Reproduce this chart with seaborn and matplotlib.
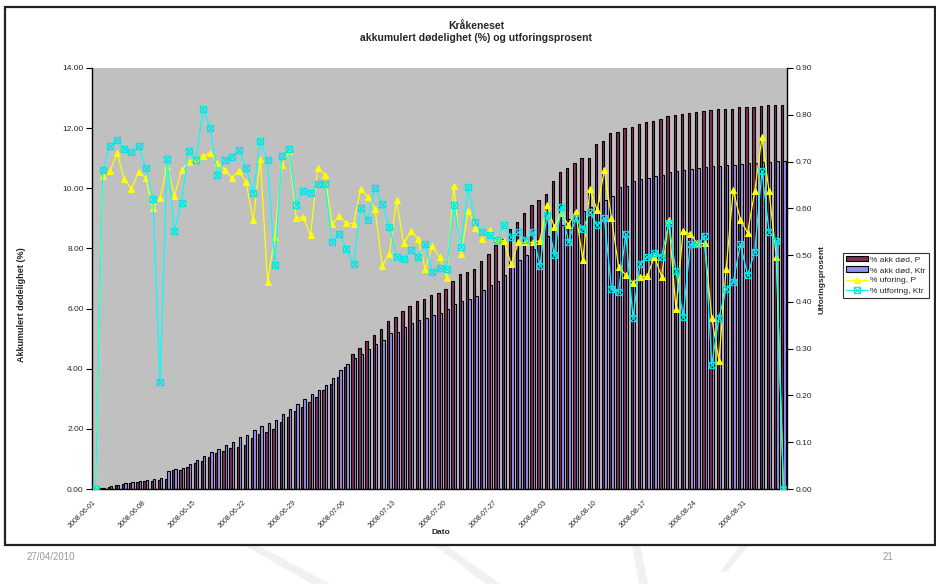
import numpy as np
import pandas as pd
import matplotlib
matplotlib.use("Agg")
import matplotlib.pyplot as plt
import seaborn as sns
from matplotlib.lines import Line2D
from matplotlib.patches import Rectangle, Patch, Polygon
from matplotlib.path import Path
from matplotlib.ticker import FormatStrFormatter

# ---------------- data ----------------
start_date = "2008-06-01"

akk_dod_P = [0.00, 0.03, 0.08, 0.13, 0.17, 0.19, 0.24, 0.28, 0.28, 0.30,
             0.33, 0.63, 0.63, 0.72, 0.85, 0.94, 1.05, 1.19, 1.26, 1.36,
             1.40, 1.46, 1.69, 1.84, 1.90, 1.98, 2.23, 2.39, 2.59, 2.74,
             2.88, 3.06, 3.29, 3.48, 3.74, 4.05, 4.48, 4.68, 4.92, 5.12,
             5.33, 5.59, 5.72, 5.92, 6.09, 6.25, 6.32, 6.44, 6.53, 6.64,
             6.93, 7.14, 7.22, 7.32, 7.58, 7.82, 8.11, 8.30, 8.64, 8.89,
             9.17, 9.44, 9.61, 9.80, 10.24, 10.55, 10.66, 10.83, 11.02, 11.02,
             11.46, 11.58, 11.83, 11.88, 12.00, 12.05, 12.14, 12.19, 12.25, 12.30,
             12.40, 12.43, 12.47, 12.50, 12.53, 12.58, 12.60, 12.63, 12.63, 12.64,
             12.69, 12.69, 12.69, 12.75, 12.76, 12.78, 12.78]

akk_dod_Ktr = [0.00, 0.04, 0.09, 0.14, 0.19, 0.22, 0.27, 0.30, 0.33, 0.37,
               0.60, 0.67, 0.69, 0.83, 0.96, 1.11, 1.22, 1.33, 1.45, 1.56,
               1.72, 1.80, 1.95, 2.10, 2.18, 2.28, 2.49, 2.67, 2.83, 2.98,
               3.15, 3.29, 3.46, 3.70, 3.96, 4.16, 4.35, 4.49, 4.67, 4.82,
               4.97, 5.18, 5.22, 5.39, 5.52, 5.62, 5.68, 5.79, 5.85, 5.99,
               6.14, 6.24, 6.31, 6.41, 6.61, 6.80, 6.93, 7.12, 7.37, 7.62,
               7.78, 7.99, 8.17, 8.41, 8.61, 8.78, 8.97, 9.11, 9.26, 9.39,
               9.53, 9.61, 9.74, 10.05, 10.09, 10.25, 10.30, 10.33, 10.41, 10.44,
               10.55, 10.58, 10.61, 10.63, 10.66, 10.71, 10.74, 10.75, 10.76, 10.78,
               10.81, 10.83, 10.84, 10.87, 10.89, 10.90, 10.90]

uforing_P = [0.000, 0.669, 0.679, 0.719, 0.662, 0.641, 0.678, 0.665, 0.601, 0.623,
             0.689, 0.627, 0.681, 0.700, 0.706, 0.712, 0.718, 0.696, 0.683, 0.665,
             0.679, 0.656, 0.574, 0.706, 0.442, 0.538, 0.693, 0.723, 0.580, 0.581,
             0.542, 0.687, 0.671, 0.566, 0.583, 0.569, 0.567, 0.641, 0.625, 0.599,
             0.477, 0.502, 0.618, 0.525, 0.551, 0.535, 0.471, 0.519, 0.496, 0.452,
             0.648, 0.502, 0.595, 0.559, 0.535, 0.554, 0.534, 0.530, 0.480, 0.527,
             0.527, 0.527, 0.531, 0.607, 0.561, 0.589, 0.564, 0.593, 0.490, 0.641,
             0.596, 0.682, 0.580, 0.475, 0.457, 0.441, 0.454, 0.455, 0.497, 0.454,
             0.576, 0.384, 0.552, 0.545, 0.525, 0.525, 0.366, 0.274, 0.470, 0.639,
             0.575, 0.548, 0.637, 0.752, 0.636, 0.497, 0.000]

utforing_Ktr = [0.000, 0.681, 0.734, 0.746, 0.727, 0.720, 0.733, 0.687, 0.620, 0.228,
                0.705, 0.552, 0.612, 0.723, 0.704, 0.812, 0.772, 0.672, 0.703, 0.710,
                0.725, 0.686, 0.633, 0.743, 0.704, 0.479, 0.712, 0.726, 0.608, 0.638,
                0.633, 0.653, 0.653, 0.529, 0.546, 0.514, 0.482, 0.601, 0.576, 0.644,
                0.610, 0.561, 0.497, 0.492, 0.510, 0.497, 0.523, 0.464, 0.472, 0.470,
                0.608, 0.518, 0.646, 0.570, 0.550, 0.544, 0.533, 0.564, 0.538, 0.549,
                0.533, 0.549, 0.477, 0.586, 0.501, 0.603, 0.527, 0.579, 0.556, 0.593,
                0.564, 0.580, 0.428, 0.422, 0.545, 0.366, 0.482, 0.497, 0.505, 0.497,
                0.569, 0.465, 0.368, 0.523, 0.523, 0.541, 0.265, 0.366, 0.428, 0.443,
                0.524, 0.457, 0.507, 0.680, 0.550, 0.530, 0.000]

series_names = ["% akk død, P", "% akk død, Ktr", "% uforing, P", "% utforing, Ktr"]
title_text = "Kråkeneset\nakkumulert dødelighet (%) og utforingsprosent"
left_ticks = [0, 2, 4, 6, 8, 10, 12, 14]
right_ticks = [0.0, 0.1, 0.2, 0.3, 0.4, 0.5, 0.6, 0.7, 0.8, 0.9]

n = len(akk_dod_P)
dates = pd.date_range(start_date, periods=n)
date_labels = list(dates.strftime("%Y-%m-%d"))

# ---------------- style ----------------
sns.set_theme(style="white")
plt.rcParams["font.family"] = ["Liberation Sans", "DejaVu Sans"]

W, H = 936, 584
fig = plt.figure(figsize=(W / 100, H / 100), dpi=100)
fig.patch.set_facecolor("white")

def fx(x):
    return x / W

def fy(y):
    return 1 - y / H

# faint watermark rays (slide background)
for pts in [[(244, 545), (258, 545), (330, 584), (312, 584)],
            [(434, 545), (446, 545), (500, 584), (486, 584)],
            [(632, 545), (640, 545), (648, 584), (639, 584)],
            [(740, 545), (749, 545), (727, 572), (720, 572)]]:
    fig.add_artist(Polygon([(fx(a), fy(b)) for a, b in pts], closed=True,
                           transform=fig.transFigure, fc="#f1f1f1", ec="none", zorder=0))

# chart frame
fig.add_artist(Rectangle((fx(5), fy(545)), fx(935) - fx(5), fy(7) - fy(545),
                         transform=fig.transFigure, fill=False, lw=1.6, ec="#222222", zorder=1))

ax = fig.add_axes([fx(92), fy(489), fx(787) - fx(92), fy(68) - fy(489)])
ax.set_facecolor("#C0C0C0")

df = pd.DataFrame({
    "dato": date_labels * 2,
    "verdi": akk_dod_P + akk_dod_Ktr,
    "serie": [series_names[0]] * n + [series_names[1]] * n,
})
sns.barplot(data=df, x="dato", y="verdi", hue="serie",
            palette=["#852B57", "#9090F0"], width=0.66, saturation=1,
            edgecolor="black", linewidth=0.8, ax=ax, legend=False)

ax.set_xlim(-0.5, n - 0.5)
ax.set_ylim(0, 14)
ax.set_yticks(left_ticks)
ax.yaxis.set_major_formatter(FormatStrFormatter("%.2f"))
tick_pos = np.arange(0, n - 1, 7)
ax.set_xticks(tick_pos - 0.5)
ax.set_xticklabels([date_labels[i] for i in tick_pos], rotation=45, ha="right",
                   va="top", rotation_mode="anchor", fontsize=5)
ax.tick_params(axis="both", direction="out", length=4, width=0.8, color="black",
               labelsize=6, pad=2)
ax.tick_params(axis="x", labelsize=5, pad=3)
ax.set_xlabel("")
ax.set_ylabel("")
for s in ["top", "right"]:
    ax.spines[s].set_visible(False)
for s in ["left", "bottom"]:
    ax.spines[s].set_color("black")
    ax.spines[s].set_linewidth(1.0)

# secondary axis with lines
ax2 = ax.twinx()
x_idx = np.arange(n)
sq_x = Path([(-1, -1), (1, -1), (1, 1), (-1, 1), (-1, -1), (-1, -1), (1, 1), (-1, 1), (1, -1)],
            [Path.MOVETO, Path.LINETO, Path.LINETO, Path.LINETO, Path.CLOSEPOLY,
             Path.MOVETO, Path.LINETO, Path.MOVETO, Path.LINETO])

sns.lineplot(x=x_idx, y=uforing_P, ax=ax2, color="#FFFF00", linewidth=0.9,
             marker="^", markersize=4, markeredgecolor="#FFFF00", markerfacecolor="#FFFF00",
             legend=False)
sns.lineplot(x=x_idx, y=utforing_Ktr, ax=ax2, color="#00FFFF", linewidth=0.9,
             marker=sq_x, markersize=4.5, markeredgecolor="#00E5E5", markerfacecolor="none",
             markeredgewidth=0.8, legend=False)
ax2.set_ylim(0, 0.9)
ax2.set_yticks(right_ticks)
ax2.yaxis.set_major_formatter(FormatStrFormatter("%.2f"))
ax2.set_xlim(-0.5, n - 0.5)
ax2.tick_params(axis="y", direction="out", length=4, width=0.8, color="black",
                labelsize=6, pad=2)
ax2.set_ylabel("")
for s in ["top", "left", "bottom"]:
    ax2.spines[s].set_visible(False)
ax2.spines["right"].set_color("black")
ax2.spines["right"].set_linewidth(1.0)

# titles and axis labels
fig.text(fx(476), fy(32), title_text, ha="center", va="center", fontsize=7.5,
         fontweight="bold", linespacing=1.15)
fig.text(fx(22), fy(305), "Akkumulert dødelighet (%)", rotation=90, ha="center",
         va="center", fontsize=6.5, fontweight="bold")
fig.text(fx(822), fy(280), "Utforingsprosent", rotation=90, ha="center",
         va="center", fontsize=6, fontweight="bold")
fig.text(fx(441), fy(533), "Dato", ha="center", va="center", fontsize=6,
         fontweight="bold")

# legend
handles = [Patch(fc="#852B57", ec="black", lw=0.8),
           Patch(fc="#9090F0", ec="black", lw=0.8),
           Line2D([], [], color="#FFFF00", lw=0.9, marker="^", markersize=4,
                  markeredgecolor="#FFFF00"),
           Line2D([], [], color="#00FFFF", lw=0.9, marker=sq_x, markersize=4.5,
                  markerfacecolor="none", markeredgecolor="#00E5E5", markeredgewidth=0.8)]
leg = fig.legend(handles, series_names, loc="upper left",
                 bbox_to_anchor=(fx(843), fy(253)), fontsize=6, frameon=True,
                 fancybox=False, borderpad=0.35, labelspacing=0.35, handlelength=2.6,
                 handleheight=0.6, handletextpad=0.3, borderaxespad=0)
leg.get_frame().set_edgecolor("black")
leg.get_frame().set_linewidth(0.8)

# footer
fig.text(fx(27), fy(557), "27/04/2010", ha="left", va="center", fontsize=7, color="#9a9a9a")
fig.text(fx(888), fy(557), "21", ha="center", va="center", fontsize=7, color="#9a9a9a")

fig.savefig("out.png", dpi=100, facecolor="white")
